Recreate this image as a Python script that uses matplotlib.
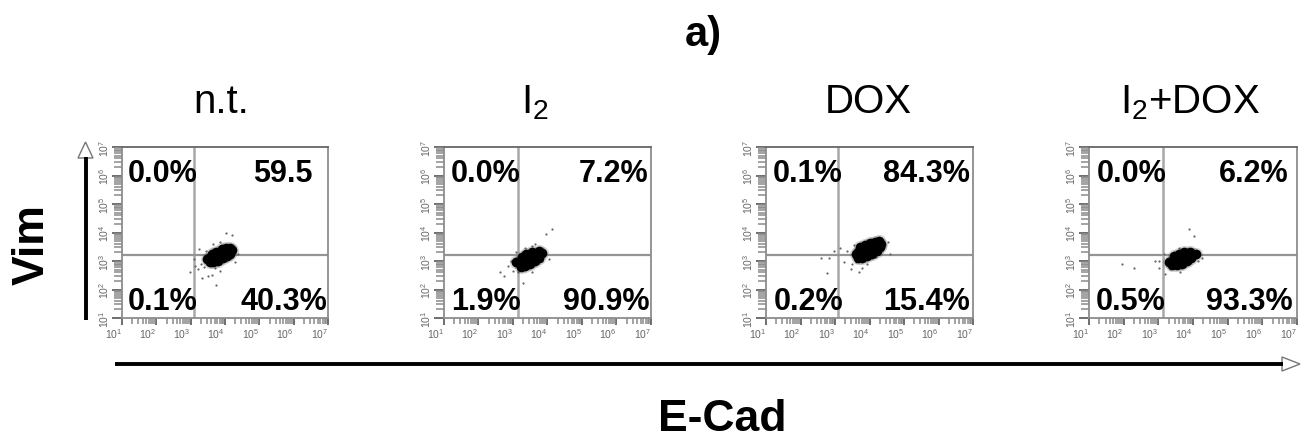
"""Flow cytometry quadrant panels: Vim vs E-Cad for four treatments."""

import matplotlib

matplotlib.use("Agg")
import matplotlib.pyplot as plt
import numpy as np
from matplotlib.patches import Polygon
from matplotlib.ticker import FixedLocator, NullFormatter

plt.rcParams["font.family"] = ["Liberation Sans", "DejaVu Sans"]
plt.rcParams["mathtext.fontset"] = "custom"
plt.rcParams["mathtext.rm"] = "Liberation Sans"
plt.rcParams["mathtext.default"] = "regular"

W, H = 1314, 439

treatments = ["n.t.", "I$_2$", "DOX", "I$_2$+DOX"]
pct_upper_left = ["0.0%", "0.0%", "0.1%", "0.0%"]
pct_upper_right = ["59.5", "7.2%", "84.3%", "6.2%"]
pct_lower_left = ["0.1%", "1.9%", "0.2%", "0.5%"]
pct_lower_right = ["40.3%", "90.9%", "15.4%", "93.3%"]

# quadrant gates, log10 units
gate_x = [3.11, 3.14, 3.09, 3.14]
gate_y = [3.22, 3.22, 3.22, 3.22]

# dense part of each cloud, log10 units
core_x = [
    [3.48, 3.54, 3.66, 3.80, 3.95, 4.09, 4.20, 3.61, 3.75, 3.90, 4.04, 4.15, 3.55, 3.66, 3.80, 3.95, 4.06, 4.15, 3.70, 3.85, 4.00],
    [3.08, 3.15, 3.30, 3.44, 3.59, 3.73, 3.84, 3.25, 3.39, 3.54, 3.74, 3.22, 3.34, 3.49, 3.63, 3.74, 3.25, 3.40, 3.55],
    [3.60, 3.68, 3.83, 3.97, 4.12, 4.24, 4.33, 3.73, 3.87, 4.02, 4.16, 4.28, 3.68, 3.78, 3.92, 4.07, 4.21, 4.31, 3.80, 3.95, 4.10],
    [3.30, 3.40, 3.54, 3.69, 3.83, 3.98, 4.08, 3.45, 3.59, 3.74, 3.91, 3.40, 3.54, 3.69, 3.83, 3.95, 3.50, 3.65, 3.80],
]
core_y = [
    [3.06, 3.09, 3.12, 3.21, 3.28, 3.36, 3.40, 3.24, 3.33, 3.42, 3.46, 3.47, 2.97, 2.95, 3.01, 3.09, 3.18, 3.26, 3.05, 3.15, 3.25],
    [2.98, 2.97, 3.04, 3.09, 3.16, 3.24, 3.27, 3.15, 3.24, 3.30, 3.36, 2.80, 2.81, 2.89, 3.01, 3.12, 2.90, 2.97, 3.07],
    [3.24, 3.30, 3.36, 3.44, 3.51, 3.58, 3.61, 3.48, 3.56, 3.63, 3.68, 3.69, 3.12, 3.09, 3.18, 3.24, 3.36, 3.48, 3.22, 3.30, 3.42],
    [2.97, 3.01, 3.07, 3.12, 3.18, 3.24, 3.26, 3.18, 3.26, 3.30, 3.32, 2.85, 2.85, 2.89, 3.01, 3.10, 2.95, 3.00, 3.08],
]

# scattered events around each cloud, log10 units
stray_x = [
    [4.02, 4.19, 3.73, 3.12, 2.98, 3.32, 3.51, 3.61, 3.85, 4.28, 3.22, 3.25, 3.85, 3.66, 3.10, 3.40, 3.30, 3.45, 3.70, 4.38],
    [3.97, 4.12, 3.28, 2.74, 2.86, 2.62, 3.54, 3.63, 3.34, 3.54, 3.01, 4.05, 2.95, 3.10, 3.85, 3.15],
    [2.60, 2.84, 2.96, 3.15, 3.46, 3.78, 3.71, 3.25, 4.58, 4.55, 2.76, 3.92, 3.34, 3.54, 3.50, 3.62, 4.20],
    [4.03, 3.88, 2.89, 3.01, 3.01, 3.20, 3.62, 2.29, 4.27, 3.16, 3.78, 3.35, 1.96, 4.15, 3.60],
]
stray_y = [
    [4.00, 3.92, 2.15, 2.83, 2.60, 2.39, 2.48, 2.50, 2.66, 2.95, 2.71, 3.42, 3.65, 3.59, 3.07, 2.80, 2.90, 3.35, 2.75, 3.25],
    [3.94, 4.12, 2.22, 2.48, 2.83, 2.60, 3.53, 3.59, 3.44, 2.62, 2.66, 3.07, 3.00, 3.30, 3.00, 2.60],
    [3.10, 3.12, 3.34, 3.44, 2.71, 2.77, 2.60, 2.95, 3.26, 3.65, 2.57, 2.89, 3.34, 3.56, 2.90, 2.95, 3.15],
    [3.89, 4.12, 3.01, 3.01, 2.77, 2.54, 2.62, 2.75, 3.12, 3.24, 3.39, 2.71, 2.89, 3.00, 3.45],
]

decades = [1, 2, 3, 4, 5, 6, 7]
tick_labels = ["$10^{1}$", "$10^{2}$", "$10^{3}$", "$10^{4}$", "$10^{5}$", "$10^{6}$", "$10^{7}$"]

# panel layout, pixels from the top left of the image
panel_left = [122, 444, 766, 1089]
panel_right = [328, 651, 973, 1297]
panel_top, panel_bottom = 148, 319
title_x = [221, 535, 868, 1190]
ul_left = [128, 451, 773, 1097]
ur_right = [313, 648, 970, 1289]
ll_left = [128, 451, 774, 1096]
lr_right = [327, 649, 970, 1293]

minor = [m * 10.0**d for d in decades[:-1] for m in range(2, 10)]

fig = plt.figure(figsize=(W / 100, H / 100), dpi=100)

for i in range(4):
    ax = fig.add_axes([
        panel_left[i] / W,
        1 - panel_bottom / H,
        (panel_right[i] - panel_left[i]) / W,
        (panel_bottom - panel_top) / H,
    ])
    ax.set_xscale("log")
    ax.set_yscale("log")
    ax.set_xlim(10.0 ** decades[0], 10.0 ** decades[-1])
    ax.set_ylim(10.0 ** decades[0], 10.0 ** decades[-1])

    cx = 10.0 ** np.array(core_x[i])
    cy = 10.0 ** np.array(core_y[i])
    ax.axvline(10.0 ** gate_x[i], color="#a8a8a8", lw=1.8, zorder=2)
    ax.axhline(10.0 ** gate_y[i], color="#949494", lw=1.6, zorder=2)
    ax.plot(10.0 ** np.array(stray_x[i]), 10.0 ** np.array(stray_y[i]), ls="none",
            marker="o", ms=1.6, color="#666666", mew=0, zorder=3)
    ax.plot(cx, cy, ls="none", marker="o", ms=9.5, color="#555555", alpha=0.25, mew=0, zorder=3)
    ax.plot(cx, cy, ls="none", marker="o", ms=7, color="black", mew=0, zorder=4)

    for spine in ax.spines.values():
        spine.set_color("#8c8c8c")
        spine.set_linewidth(1.3)
    ax.spines["top"].set_color("#666666")

    for axis in (ax.xaxis, ax.yaxis):
        axis.set_major_locator(FixedLocator([10.0**d for d in decades]))
        axis.set_minor_locator(FixedLocator(minor))
        axis.set_minor_formatter(NullFormatter())
    ax.set_xticklabels(tick_labels, fontsize=7.5, color="#666666", ha="right")
    ax.set_yticklabels(tick_labels, fontsize=7.5, color="#666666", rotation=90, va="center")
    ax.tick_params(which="major", length=5, width=1.2, color="#555555", pad=1)
    ax.tick_params(axis="y", which="major", length=7)
    ax.tick_params(which="minor", length=4, width=1.1, color="#8a8a8a")
    ax.tick_params(axis="y", which="minor", length=6)

# everything else sits on a full figure layer in pixel coordinates
top = fig.add_axes([0, 0, 1, 1], facecolor="none")
top.set_xlim(0, W)
top.set_ylim(H, 0)
top.axis("off")

for i in range(4):
    top.text(title_x[i], 113, treatments[i], fontsize=29, ha="center", va="baseline")
    style = dict(fontsize=22, fontweight="bold", va="baseline")
    top.text(ul_left[i], 182, pct_upper_left[i], ha="left", **style)
    top.text(ur_right[i], 182, pct_upper_right[i], ha="right", **style)
    top.text(ll_left[i], 310, pct_lower_left[i], ha="left", **style)
    top.text(lr_right[i], 310, pct_lower_right[i], ha="right", **style)

top.text(703, 46, "a)", fontsize=30, fontweight="bold", ha="center", va="baseline")
top.text(722, 431, "E-Cad", fontsize=32, fontweight="bold", ha="center", va="baseline")
top.text(32, 245, "Vim", fontsize=32, fontweight="bold", rotation=90, ha="center", va="center")

# axis arrows
top.plot([115, 1283], [365, 365], color="black", lw=2.8, solid_capstyle="butt")
top.add_patch(Polygon([[1282, 358], [1300, 365], [1282, 372]], closed=True,
                      facecolor="white", edgecolor="#777777", lw=1))
top.plot([85.5, 85.5], [321, 158], color="black", lw=2.8, solid_capstyle="butt")
top.add_patch(Polygon([[78, 159], [85.5, 143], [93, 159]], closed=True,
                      facecolor="white", edgecolor="#777777", lw=1))

fig.savefig("out.png", dpi=100)
plt.close(fig)
